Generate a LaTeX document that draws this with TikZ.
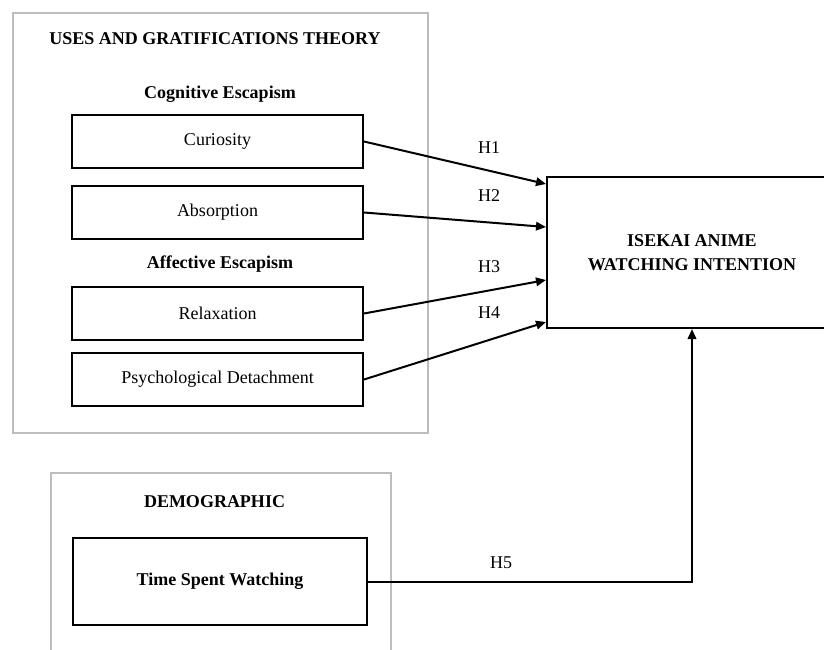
\documentclass[tikz,border=0pt]{standalone}
\usepackage{fontspec}
\setmainfont{Liberation Serif}
\usetikzlibrary{arrows.meta}
\definecolor{framegray}{HTML}{BDBDBD}
\tikzset{
  frame/.style={draw=framegray, line width=2pt},
  varbox/.style={draw=black, line width=2pt, minimum width=291pt, minimum height=53pt, inner sep=0pt,
     font=\fontsize{18}{21.6}\selectfont},
  head/.style={font=\fontsize{18}{21.6}\selectfont\bfseries, inner sep=0pt},
  hlabel/.style={font=\fontsize{18}{21.6}\selectfont, inner sep=0pt},
  link/.style={line width=2pt, -{Triangle[length=10pt,width=8.5pt]}}
}
\begin{document}
\begin{tikzpicture}[x=1pt,y=-1pt]
\useasboundingbox (0,0) rectangle (824,650);
\clip (0,0) rectangle (824,650);
% frames
\draw[frame] (12.7,12.7) rectangle (428,433);
\draw[frame] (51,680) -- (51,473) -- (391,473) -- (391,680);
% headings
\node[head] (title) at (215,39) {USES AND GRATIFICATIONS THEORY};
\node[head] (cog) at (220,94) {Cognitive Escapism};
\node[head] (aff) at (220,264) {Affective Escapism};
\node[head] (demo) at (214.5,502) {DEMOGRAPHIC};
% variable boxes
\node[varbox] (cur) at (217.5,141.5) {Curiosity};
\node[varbox] (abs) at (217.5,212.5) {Absorption};
\node[varbox] (rel) at (217.5,313.5) {Relaxation};
\node[varbox] (det) at (217.5,379.5) {Psychological Detachment};
\node[varbox, minimum width=294pt, minimum height=87pt, font=\fontsize{18}{21.6}\selectfont\bfseries] (time) at (220,581.5) {Time Spent Watching};
% target
\node[varbox, minimum width=290pt, minimum height=151pt, align=center, font=\fontsize{18}{24}\selectfont\bfseries] (tgt) at (692,252.5) {ISEKAI ANIME\\WATCHING INTENTION};
% connectors
\draw[link] (cur.east) -- ([yshift=68.5pt]tgt.west);
\draw[link] (abs.east) -- ([yshift=25.5pt]tgt.west);
\draw[link] (rel.east) -- ([yshift=-27.5pt]tgt.west);
\draw[link] (det.east) -- ([yshift=-69.5pt]tgt.west);
\draw[link] (time.east) -| (tgt.south);
% labels
\node[hlabel] (h1) at (489,148) {H1};
\node[hlabel] (h2) at (489,196) {H2};
\node[hlabel] (h3) at (489,267) {H3};
\node[hlabel] (h4) at (489,313) {H4};
\node[hlabel] (h5) at (501,563) {H5};
\end{tikzpicture}
\end{document}
